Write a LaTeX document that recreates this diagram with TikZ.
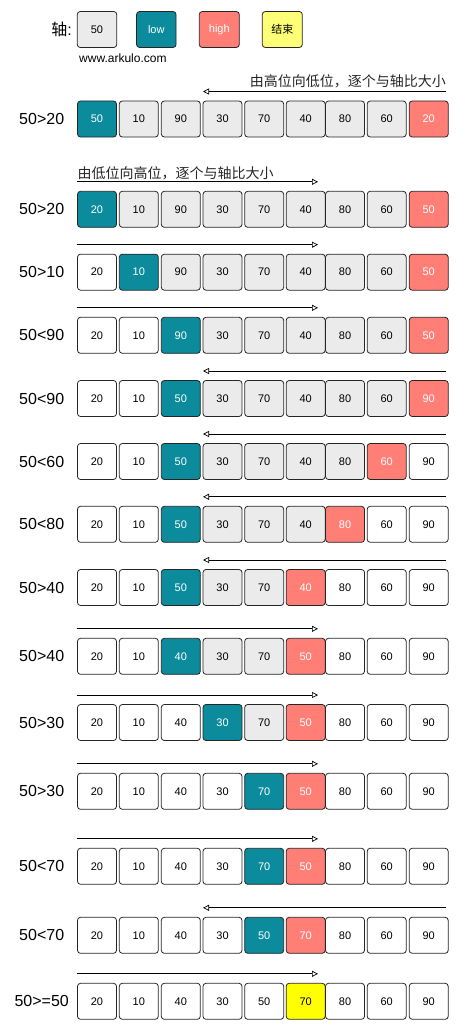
\documentclass[tikz,border=0pt]{standalone}
\usepackage{fontspec}
\setmainfont{Liberation Sans}
\newfontfamily\cjk{Noto Sans CJK SC}
\usetikzlibrary{arrows.meta}
\definecolor{tealc}{HTML}{0B8B9C}
\definecolor{redc}{HTML}{FF7F77}
\definecolor{grayc}{HTML}{EBEBEB}
\definecolor{yelc}{HTML}{FFFF00}
\definecolor{lyelc}{HTML}{FFFF77}
\def\colxs{97,138.8,180.8,222.5,264.2,305.7,345,386.7,428.7}
\begin{document}
\begin{tikzpicture}[x=1pt,y=-1pt,
  cell/.style={draw=black!85, line width=0.8pt, rounded corners=3pt, minimum width=39pt, minimum height=36pt, inner sep=0pt, font=\fontsize{11}{11}\selectfont},
  W/.style={cell, fill=white, text=black},
  G/.style={cell, fill=grayc, text=black},
  T/.style={cell, fill=tealc, text=white},
  R/.style={cell, fill=redc, text=white},
  Y/.style={cell, fill=yelc, text=black},
  LY/.style={cell, fill=lyelc, text=black},
  rowlabel/.style={font=\fontsize{16}{16}\selectfont, inner sep=0pt},
  note/.style={font=\cjk\fontsize{14}{14}\selectfont, inner sep=0pt, text=black!85},
  dirarrow/.style={-{Triangle[open,length=6pt,width=6pt]}, line width=0.7pt},
]
\useasboundingbox (0,0) rectangle (461,1030);
% legend
\node[rowlabel, anchor=east] (axis) at (72,29.5) {{\cjk 轴}:};
\node[G, minimum width=39.5pt] (legpivot) at (97,29.5) {50};
\node[T, minimum width=39.5pt] (leglow) at (156.3,29.5) {low};
\node[R, minimum width=40pt] (leghigh) at (219.3,29.5) {high};
\node[LY, minimum width=40pt] (legend) at (282.3,29.5) {\cjk 结束};
\node[anchor=west, inner sep=0pt, font=\fontsize{12}{12}\selectfont] (site) at (79,58) {www.arkulo.com};
% notes
\node[note, anchor=east] (note1) at (446,81.7) {由高位向低位，逐个与轴比大小};
\node[note, anchor=west] (note2) at (77.3,173.3) {由低位向高位，逐个与轴比大小};
% rows
\foreach \r/\yy/\lab/\xs/\xe/\cells in {
 1/119/50>20/446/203/{50/T,10/G,90/G,30/G,70/G,40/G,80/G,60/G,20/R},
 2/209.3/50>20/76.7/318/{20/T,10/G,90/G,30/G,70/G,40/G,80/G,60/G,50/R},
 3/272.2/50>10/76.7/318/{20/W,10/T,90/G,30/G,70/G,40/G,80/G,60/G,50/R},
 4/335.3/50<90/76.7/318/{20/W,10/W,90/T,30/G,70/G,40/G,80/G,60/G,50/R},
 5/398.5/50<90/446/203/{20/W,10/W,50/T,30/G,70/G,40/G,80/G,60/G,90/R},
 6/461.5/50<60/446/203/{20/W,10/W,50/T,30/G,70/G,40/G,80/G,60/R,90/W},
 7/524.3/50<80/446/203/{20/W,10/W,50/T,30/G,70/G,40/G,80/R,60/W,90/W},
 8/587.5/50>40/446/203/{20/W,10/W,50/T,30/G,70/G,40/R,80/W,60/W,90/W},
 9/656.3/50>40/76.7/318/{20/W,10/W,40/T,30/G,70/G,50/R,80/W,60/W,90/W},
 10/722.5/50>30/76.7/318/{20/W,10/W,40/W,30/T,70/G,50/R,80/W,60/W,90/W},
 11/791.3/50>30/76.7/318/{20/W,10/W,40/W,30/W,70/T,50/R,80/W,60/W,90/W},
 12/866.3/50<70/76.7/318/{20/W,10/W,40/W,30/W,70/T,50/R,80/W,60/W,90/W},
 13/935.3/50<70/446/203/{20/W,10/W,40/W,30/W,50/T,70/R,80/W,60/W,90/W},
 14/1001.3/50>=50/76.7/318/{20/W,10/W,40/W,30/W,50/W,70/Y,80/W,60/W,90/W}}{
  \node[rowlabel] (lab\r) at (41.7,\yy) {\lab};
  \foreach \v/\s [count=\c] in \cells {
    \pgfmathsetmacro\xx{{\colxs}[\c-1]}
    \node[\s] (c\r-\c) at (\xx,\yy) {\v};
  }
  \coordinate (as\r) at (\xs,\yy-27.5);
  \coordinate (ae\r) at (\xe,\yy-27.5);
  \draw[dirarrow] (as\r) -- (ae\r);
}
\end{tikzpicture}
\end{document}
